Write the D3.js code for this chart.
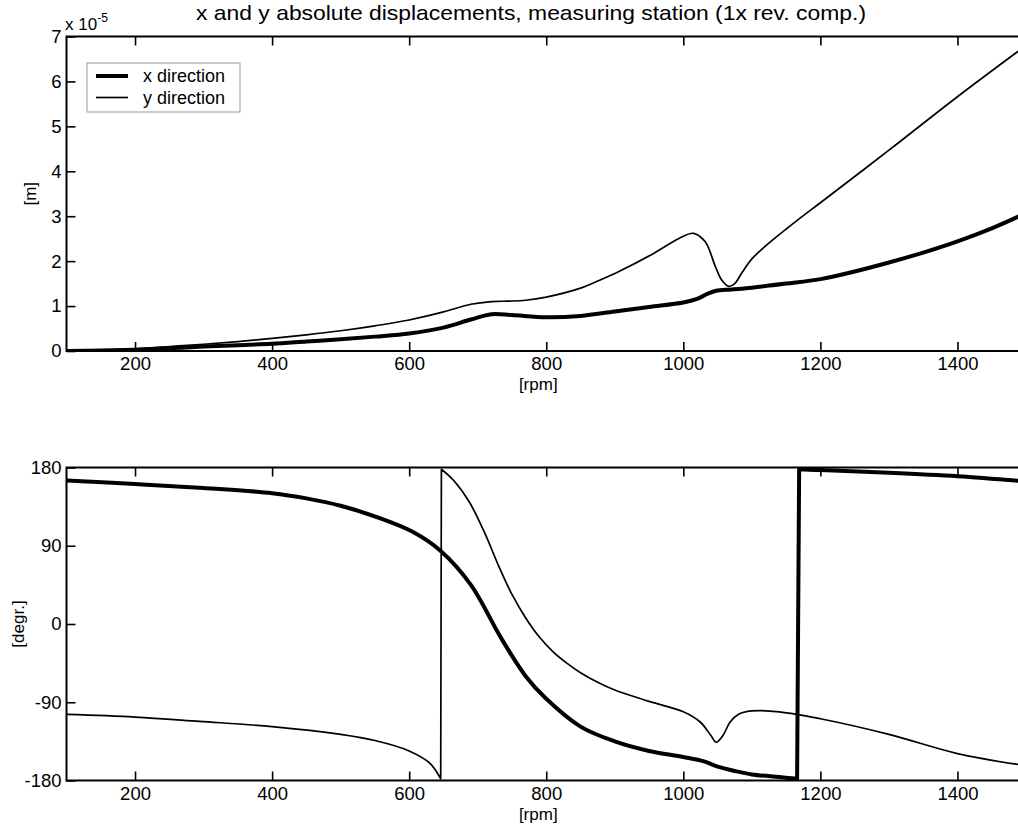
<!DOCTYPE html>
<html><head><meta charset="utf-8">
<script src="https://cdn.jsdelivr.net/npm/d3@7"></script>
<style>
html,body{margin:0;padding:0;background:#fff;overflow:hidden;}
svg{display:block;font-family:"Liberation Sans",Arial,sans-serif;}
</style></head>
<body>
<script>
// ---------- data ----------
const titleText = "x and y absolute displacements, measuring station (1x rev. comp.)";
const legendLabels = ["x direction", "y direction"];
const xTicks = [200, 400, 600, 800, 1000, 1200, 1400];
const ampTicks = [0, 1, 2, 3, 4, 5, 6, 7];
const phaseTicks = [-180, -90, 0, 90, 180];

// amplitude (x 1e-5 m)
const ampXrpm = [100,150,200,250,300,350,400,450,500,550,600,650,690,720,750,800,850,900,950,1000,1020,1035,1048,1070,1100,1150,1200,1250,1300,1350,1400,1450,1500];
const ampXval = [0.0,0.01,0.03,0.06,0.10,0.13,0.16,0.21,0.26,0.32,0.39,0.52,0.70,0.82,0.80,0.75,0.78,0.88,0.98,1.08,1.16,1.27,1.34,1.37,1.41,1.50,1.60,1.77,1.97,2.19,2.44,2.73,3.07];
const ampYrpm = [100,150,200,250,300,350,400,450,500,550,600,650,690,720,745,770,800,850,877,906,954,993,1015,1032,1047,1056,1066,1075,1085,1100,1124,1168,1200,1300,1400,1500];
const ampYval = [0.0,0.02,0.05,0.10,0.15,0.21,0.28,0.36,0.45,0.56,0.69,0.87,1.04,1.10,1.11,1.13,1.20,1.40,1.57,1.77,2.15,2.50,2.62,2.43,1.87,1.58,1.44,1.50,1.73,2.05,2.39,2.93,3.30,4.47,5.66,6.80];

// phase (deg); a wrap from -180 to +180 happens between the two halves
const phXrpmA = [100,200,300,400,450,500,556,605,646,690,734,770,800,850,900,950,1000,1030,1050,1075,1100,1140,1166];
const phXvalA = [165,161,156.5,150.5,144.5,136,122,106,84,45,-16,-60,-86,-118,-135,-146,-153,-158,-164,-169,-173,-176,-178];
const phXrpmB = [1169,1200,1300,1400,1500];
const phXvalB = [178,177,174,170,164];
const phYrpmA = [100,200,294,400,500,550,600,630,646];
const phYvalA = [-104,-107,-112,-118,-127,-134,-146,-160,-178];
const phYrpmB = [647,665,688,710,731,750,770,790,810,830,850,875,900,950,1000,1025,1040,1048,1058,1068,1080,1100,1140,1200,1300,1400,1500];
const phYvalB = [178,165,140,105,66,34,7,-15,-32,-45,-56,-67,-76,-89,-101,-113,-128,-136,-128,-113,-104,-100,-101,-109,-127,-149,-163];

// ---------- layout ----------
const W = 1018, H = 833;
const svg = d3.select("body").append("svg").attr("width", W).attr("height", H);
const left = 66.5, right = 1026;
const x = d3.scaleLinear().domain([100, 1500]).range([left, right]);
const yA = d3.scaleLinear().domain([0, 7]).range([351, 36.5]);
const yP = d3.scaleLinear().domain([-180, 180]).range([780.5, 467.5]);

const fs = 18.5;
function drawAxes(y, ticks, top, bottom, ylab, ylabX) {
  const g = svg.append("g");
  g.append("rect").attr("x", left).attr("y", top).attr("width", right-left).attr("height", bottom-top)
    .attr("fill", "none").attr("stroke", "#000").attr("stroke-width", 2);
  const ax = g.append("g").attr("transform", `translate(0,${bottom})`)
    .call(d3.axisBottom(x).tickValues(xTicks).tickSize(-9).tickPadding(6).tickFormat(d => String(d)));
  ax.select(".domain").remove();
  ax.selectAll("line").attr("stroke-width", 1.6);
  ax.selectAll("text").attr("font-size", fs).attr("font-family", "Liberation Sans, Arial").attr("fill", "#000");
  const axt = g.append("g").attr("transform", `translate(0,${top})`)
    .call(d3.axisTop(x).tickValues(xTicks).tickSize(-9).tickFormat(""));
  axt.select(".domain").remove();
  axt.selectAll("line").attr("stroke-width", 1.6);
  const ay = g.append("g").attr("transform", `translate(${left},0)`)
    .call(d3.axisLeft(y).tickValues(ticks).tickSize(-9).tickPadding(5).tickFormat(d => String(d)));
  ay.select(".domain").remove();
  ay.selectAll("line").attr("stroke-width", 1.6);
  ay.selectAll("text").attr("font-size", fs).attr("font-family", "Liberation Sans, Arial").attr("fill", "#000");
  g.append("text").attr("x", (left+right)/2 - 8).attr("y", bottom + 39).attr("text-anchor", "middle")
    .attr("font-size", 17).text("[rpm]");
  g.append("text").attr("transform", `translate(${ylabX},${(top+bottom)/2}) rotate(-90)`)
    .attr("text-anchor", "middle").attr("font-size", 17).text(ylab);
}
drawAxes(yA, ampTicks, 36.5, 351, "[m]", 36);
drawAxes(yP, phaseTicks, 467.5, 780.5, "[degr.]", 24);

// exponent label
const ex = svg.append("text").attr("x", 65).attr("y", 30).attr("font-size", 17);
ex.append("tspan").text("x 10");
ex.append("tspan").attr("dy", -8).attr("font-size", 12).text("-5");

// title
svg.append("text").attr("x", 531).attr("y", 20).attr("text-anchor", "middle")
  .attr("font-size", 21).attr("textLength", 670).attr("lengthAdjust", "spacingAndGlyphs").text(titleText);

// clip
svg.append("clipPath").attr("id", "c1").append("rect").attr("x", left).attr("y", 36).attr("width", right-left).attr("height", 316);
svg.append("clipPath").attr("id", "c2").append("rect").attr("x", left).attr("y", 466).attr("width", right-left).attr("height", 316);

// draw one or more smooth segments joined by straight lines (wrap jumps)
function series(segs, y, sw, clip) {
  const line = d3.line().x(d => x(d[0])).y(d => y(d[1])).curve(d3.curveCatmullRom.alpha(0.5));
  let d = "";
  segs.forEach(([rpm, val], k) => {
    const pts = rpm.map((r, i) => [r, val[i]]);
    let s = line(pts);
    if (k > 0) s = "L" + s.slice(1);
    d += s;
  });
  svg.append("path").attr("d", d).attr("fill", "none").attr("stroke", "#000")
    .attr("stroke-width", sw).attr("stroke-linejoin", "round").attr("clip-path", `url(#${clip})`);
}
series([[ampYrpm, ampYval]], yA, 1.7, "c1");
series([[ampXrpm, ampXval]], yA, 4, "c1");
series([[phYrpmA, phYvalA], [phYrpmB, phYvalB]], yP, 1.7, "c2");
series([[phXrpmA, phXvalA], [phXrpmB, phXvalB]], yP, 4, "c2");

// legend
const lg = svg.append("g");
lg.append("rect").attr("x", 87).attr("y", 63).attr("width", 153).attr("height", 49)
  .attr("fill", "#fff").attr("stroke", "#999").attr("stroke-width", 1);
const lw = [4, 1.7], ly = [76, 97.5];
legendLabels.forEach((t, i) => {
  lg.append("line").attr("x1", 96).attr("x2", 128).attr("y1", ly[i]).attr("y2", ly[i])
    .attr("stroke", "#000").attr("stroke-width", lw[i]);
  lg.append("text").attr("x", 143).attr("y", ly[i] + 6).attr("font-size", 18).text(t);
});
</script>
</body></html>
